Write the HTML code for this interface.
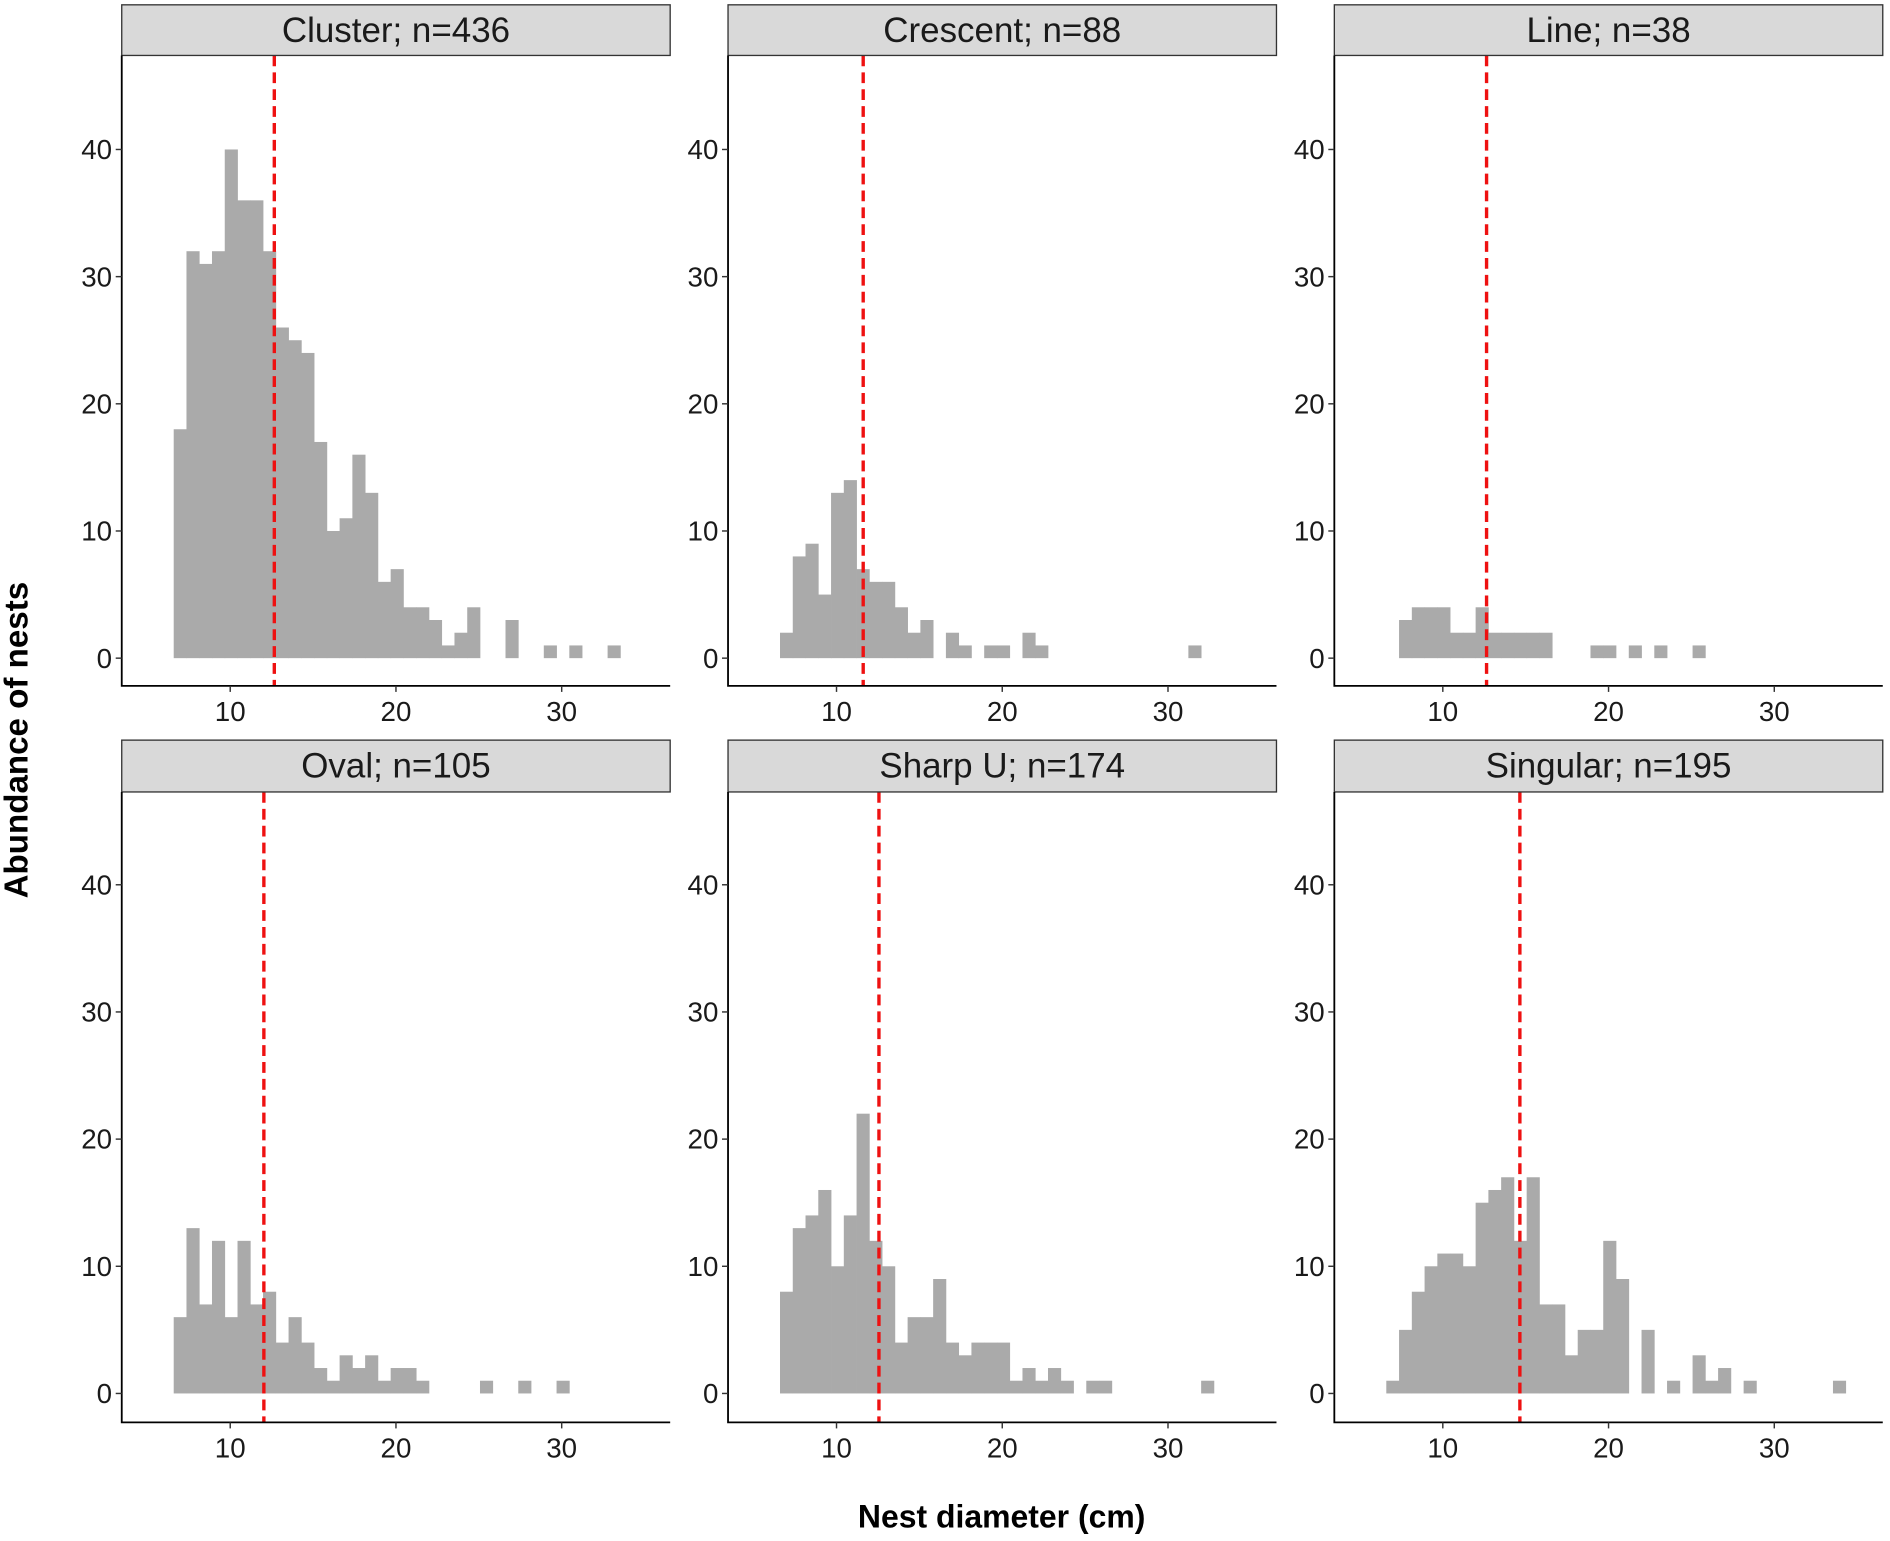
<!DOCTYPE html>
<html><head><meta charset="utf-8"><style>
html,body{margin:0;padding:0;background:#fff}
svg{display:block}
text{font-family:"Liberation Sans",Arial,sans-serif}
</style></head><body>
<svg id="chart" width="1890" height="1541" viewBox="0 0 1568 1278.4" preserveAspectRatio="none" xmlns="http://www.w3.org/2000/svg">
<text x="831" y="1267" font-size="26.5" font-weight="bold" text-anchor="middle">Nest diameter (cm)</text>
<text transform="translate(23,614) rotate(-90)" font-size="27.5" font-weight="bold" text-anchor="middle">Abundance of nests</text>
</svg>
<script>
const panelTitles = ["Cluster; n=436","Crescent; n=88","Line; n=38","Oval; n=105","Sharp U; n=174","Singular; n=195"];
const binStart = 6.59;
const binWidth = 0.77;
const clusterCounts = [18,32,31,32,40,36,36,32,26,25,24,17,10,11,16,13,6,7,4,4,3,1,2,4,0,0,3,0,0,1,0,1,0,0,1,0];
const crescentCounts = [2,8,9,5,13,14,7,6,6,4,2,3,0,2,1,0,1,1,0,2,1,0,0,0,0,0,0,0,0,0,0,0,1,0,0,0];
const lineCounts = [0,3,4,4,4,2,2,4,2,2,2,2,2,0,0,0,1,1,0,1,0,1,0,0,1,0,0,0,0,0,0,0,0,0,0,0];
const ovalCounts = [6,13,7,12,6,12,7,8,4,6,4,2,1,3,2,3,1,2,2,1,0,0,0,0,1,0,0,1,0,0,1,0,0,0,0,0];
const sharpUCounts = [8,13,14,16,10,14,22,12,10,4,6,6,9,4,3,4,4,4,1,2,1,2,1,0,1,1,0,0,0,0,0,0,0,1,0,0];
const singularCounts = [1,5,8,10,11,11,10,15,16,17,12,17,7,7,3,5,5,12,9,0,5,0,1,0,3,1,2,0,1,0,0,0,0,0,0,1];
const meanValues = [12.66,11.61,12.64,12.03,12.56,14.65];
const xTicks = [10,20,30];
const yTicks = [0,10,20,30,40];

const allCounts = [clusterCounts,crescentCounts,lineCounts,ovalCounts,sharpUCounts,singularCounts];
const svg = document.getElementById('chart');
const NS = 'http://www.w3.org/2000/svg';
const panelLefts = [101,604,1107];
const panelW = 455;
const rows = [{stripTop:4,plotTop:46,axisY:569,zeroY:546},{stripTop:614,plotTop:657,axisY:1180,zeroY:1156}];
const pxPerX = 13.75, pxPerY = 10.55;
function mk(tag, attrs){const e=document.createElementNS(NS,tag);for(const k in attrs)e.setAttribute(k,attrs[k]);return e;}

allCounts.forEach((counts, p) => {
  const L = panelLefts[p%3], R = rows[Math.floor(p/3)];
  const xs = v => L + 90 + (v-10)*pxPerX;
  const ys = v => R.zeroY - v*pxPerY;
  const g = mk('g',{});
  
  
  svg.appendChild(g);
  counts.forEach((c,i) => {
    if (c <= 0) return;
    const x0 = xs(binStart + i*binWidth), x1 = xs(binStart + (i+1)*binWidth);
    const r = mk('rect',{x:x0,y:ys(c),width:x1-x0+0.3,height:ys(0)-ys(c),fill:'#aaaaaa'});
    
    
    g.appendChild(r);
  });
  const ml = mk('line',{x1:xs(meanValues[p]),x2:xs(meanValues[p]),y1:R.plotTop,y2:R.axisY,stroke:'#ee1111','stroke-width':2.8,'stroke-dasharray':'9,5'});
  
  
  g.appendChild(ml);
  const strip = mk('rect',{x:L,y:R.stripTop,width:panelW,height:R.plotTop-R.stripTop,fill:'#d9d9d9',stroke:'#333','stroke-width':1.1});
  
  
  g.appendChild(strip);
  const st = mk('text',{x:L+panelW/2,y:R.stripTop+31,'font-size':29,'text-anchor':'middle',fill:'#1a1a1a'});
  st.textContent = panelTitles[p];
  
  
  g.appendChild(st);
  const ax = mk('path',{d:`M${L},${R.plotTop} V${R.axisY} H${L+panelW}`,fill:'none',stroke:'#000','stroke-width':1.5});
  
  
  g.appendChild(ax);
  yTicks.forEach(t => {
    g.appendChild(mk('line',{x1:L-5,x2:L,y1:ys(t),y2:ys(t),stroke:'#333','stroke-width':1.2}));
    const tl = mk('text',{x:L-8,y:ys(t)+8,'font-size':23,'text-anchor':'end',fill:'#1a1a1a'});
    tl.textContent = t;
    
    
    g.appendChild(tl);
  });
  xTicks.forEach(t => {
    g.appendChild(mk('line',{x1:xs(t),x2:xs(t),y1:R.axisY,y2:R.axisY+5,stroke:'#333','stroke-width':1.2}));
    const tl = mk('text',{x:xs(t),y:R.axisY+29,'font-size':23,'text-anchor':'middle',fill:'#1a1a1a'});
    tl.textContent = t;
    
    
    g.appendChild(tl);
  });
});
</script>
</body></html>
